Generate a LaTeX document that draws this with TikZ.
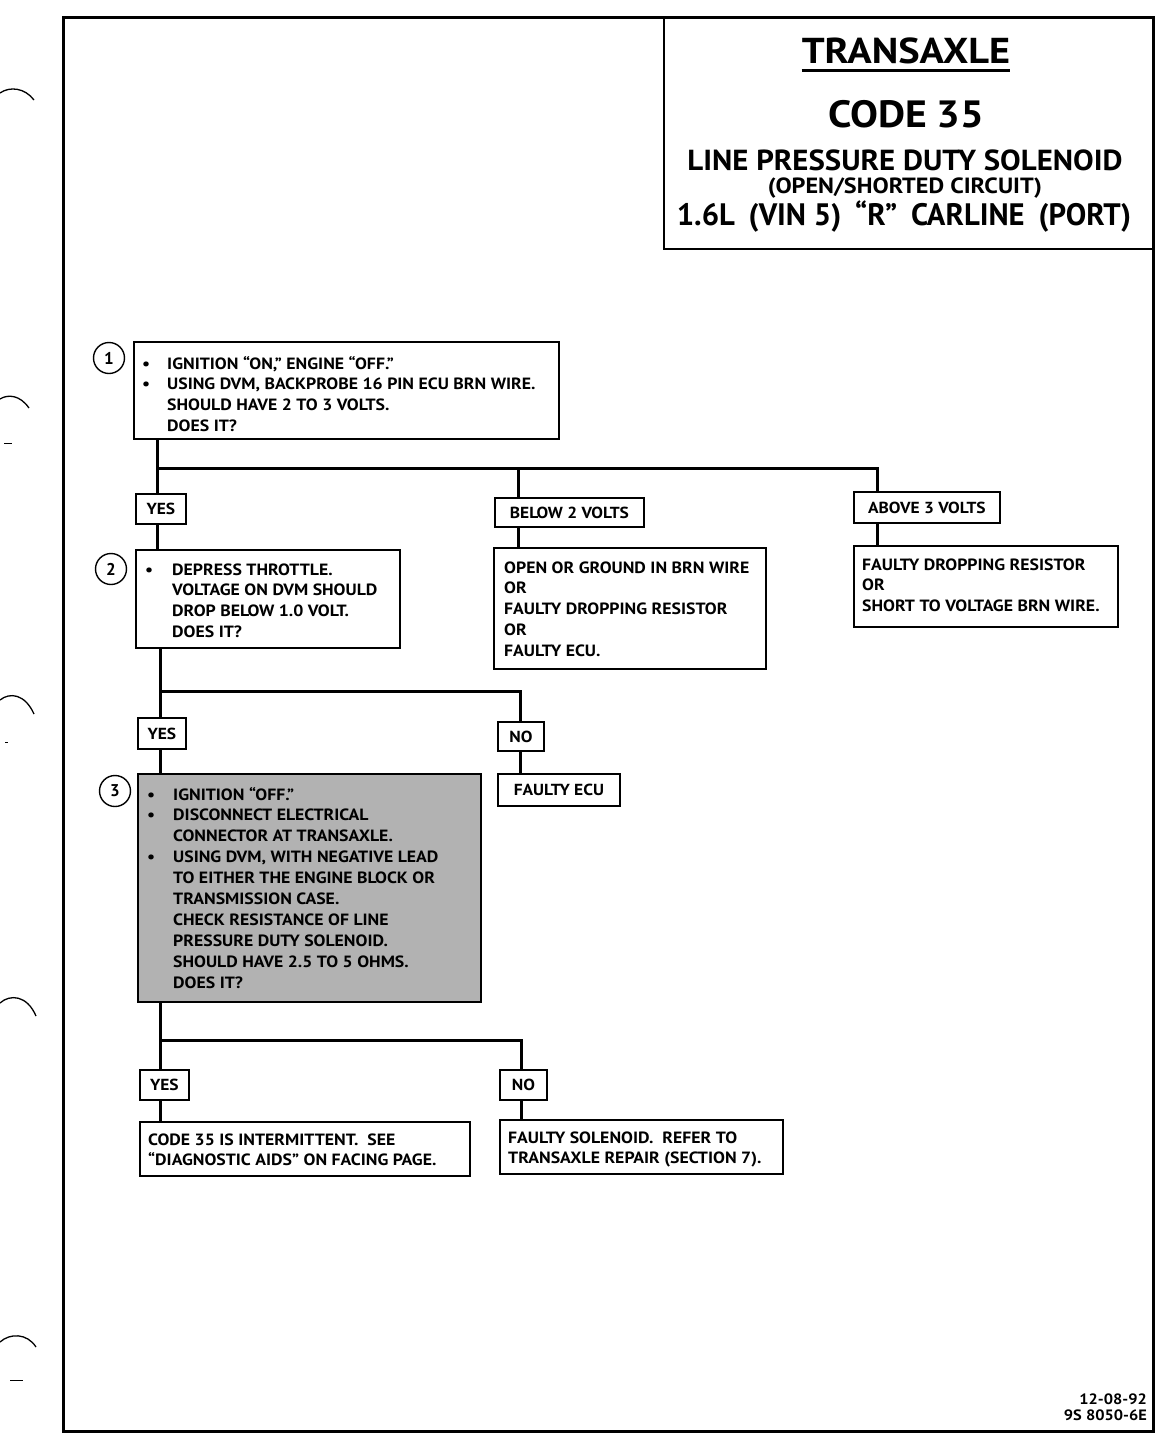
\documentclass[tikz,border=0pt]{standalone}
\usepackage{fontspec}
\setmainfont{PT Sans}
\newfontfamily\boxfont{PT Sans}[FakeStretch=1.09,Ligatures=TeX]
\usetikzlibrary{calc}
\begin{document}
\begin{tikzpicture}[x=1pt,y=-1pt,
  box/.style={draw, line width=1.8pt, rectangle, inner sep=0pt, anchor=north west},
  lbl/.style={box, font=\boxfont\fontsize{16}{18}\selectfont\bfseries},
  txt/.style={anchor=base west, inner sep=0pt, align=left, font=\boxfont\fontsize{16.3}{20.9}\selectfont\bfseries},
  wire/.style={line width=3pt},
  num/.style={draw, circle, line width=1.4pt, minimum size=31pt, inner sep=0pt, font=\fontsize{17}{17}\selectfont\bfseries},
  ttl/.style={anchor=base, inner sep=0pt, font=\bfseries},
  holemark/.style={line width=1.3pt}]
\useasboundingbox (0,0) rectangle (1168,1440);
% frame
\draw[line width=3pt] (63,17) rectangle (1153,1431);
% title block
\node[box, line width=2pt, minimum width=490pt, minimum height=231pt] (tb) at (663,17) {};
\node[ttl, font=\fontsize{36}{36}\selectfont\bfseries] (t1) at (906,63) {\scalebox{1.12}[1]{TRANSAXLE}};
\draw[line width=3pt] ($(t1.base west)+(0,7)$) -- ($(t1.base east)+(0,7)$);
\node[ttl, font=\fontsize{38}{38}\selectfont\bfseries] (t2) at (906,127) {\scalebox{1.1}[1]{CODE\hspace{0.22em}35}};
\node[ttl, font=\fontsize{29}{29}\selectfont\bfseries] (t3) at (905,170) {\scalebox{1.064}[1]{LINE PRESSURE DUTY SOLENOID}};
\node[ttl, font=\fontsize{22}{22}\selectfont\bfseries] (t4) at (905,193) {\scalebox{1.1}[1]{(OPEN/SHORTED CIRCUIT)}};
\node[ttl, font=\fontsize{31}{31}\selectfont\bfseries] (t5) at (904,225) {\scalebox{0.99}[1]{1.6L\hspace{0.45em}(VIN 5)\hspace{0.45em}“R”\hspace{0.45em}CARLINE\hspace{0.45em}(PORT)}};

% ---------- step 1
\node[box, minimum width=425pt, minimum height=97pt] (b1) at (133,341) {};
\node[num] (n1) at (109,358) {1};
\node[txt] (b1t) at (142,369) {\begin{tabular}[t]{@{}p{25pt}@{}l@{}}
\textbullet & IGNITION “ON,” ENGINE “OFF.”\\
\textbullet & USING DVM, BACKPROBE 16 PIN ECU BRN WIRE.\\
 & SHOULD HAVE 2 TO 3 VOLTS.\\
 & DOES IT?\end{tabular}};

\node[lbl, minimum width=50pt, minimum height=30pt] (yes1) at (135,493) {YES};
\node[lbl, minimum width=149pt, minimum height=29pt] (below) at (494,497) {BELOW 2 VOLTS};
\node[lbl, minimum width=146pt, minimum height=31pt] (above) at (853,491) {ABOVE 3 VOLTS};

\coordinate (s1) at (157,468);
\coordinate (cA) at (157,0);
\coordinate (cB) at (518,0);
\coordinate (cC) at (877,0);
\draw[wire] (b1.south -| cA) -- (yes1.north -| cA);
\draw[wire] (s1) -- (s1 -| cC) -- (above.north -| cC);
\draw[wire] (s1 -| cB) -- (below.north -| cB);

% ---------- step 2
\node[box, minimum width=264pt, minimum height=98pt] (b2) at (135,549) {};
\node[num] (n2) at (111,569) {2};
\node[txt] (b2t) at (145,575) {\begin{tabular}[t]{@{}p{27pt}@{}l@{}}
\textbullet & DEPRESS THROTTLE.\\
 & VOLTAGE ON DVM SHOULD\\
 & DROP BELOW 1.0 VOLT.\\
 & DOES IT?\end{tabular}};
\draw[wire] (yes1.south -| cA) -- (b2.north -| cA);

\node[box, minimum width=272pt, minimum height=121pt] (r1) at (493,547) {};
\node[txt] (r1t) at (504,573) {\begin{tabular}[t]{@{}l@{}}OPEN OR GROUND IN BRN WIRE\\OR\\FAULTY DROPPING RESISTOR\\OR\\FAULTY ECU.\end{tabular}};
\draw[wire] (below.south -| cB) -- (r1.north -| cB);

\node[box, minimum width=264pt, minimum height=81pt] (r2) at (853,545) {};
\node[txt] (r2t) at (862,570) {\begin{tabular}[t]{@{}l@{}}FAULTY DROPPING RESISTOR\\OR\\SHORT TO VOLTAGE BRN WIRE.\end{tabular}};
\draw[wire] (above.south -| cC) -- (r2.north -| cC);

% ---------- branch 2
\coordinate (s2) at (160,691);
\coordinate (cA2) at (160,0);
\coordinate (cB2) at (520,0);
\node[lbl, minimum width=48pt, minimum height=31pt] (yes2) at (137,717) {YES};
\node[lbl, minimum width=46pt, minimum height=29pt] (no2) at (497,721) {NO};
\draw[wire] (b2.south -| cA2) -- (yes2.north -| cA2);
\draw[wire] (s2) -- (s2 -| cB2) -- (no2.north -| cB2);

\node[lbl, minimum width=122pt, minimum height=32pt] (ecu) at (497,773) {FAULTY ECU\hspace{14pt}};
\draw[wire] (no2.south -| cB2) -- (ecu.north -| cB2);

% ---------- step 3
\node[box, fill=black!30, minimum width=343pt, minimum height=228pt] (b3) at (137,773) {};
\node[num] (n3) at (115,791) {3};
\node[txt] (b3t) at (147,800) {\begin{tabular}[t]{@{}p{26pt}@{}l@{}}
\textbullet & IGNITION “OFF.”\\
\textbullet & DISCONNECT ELECTRICAL\\
 & CONNECTOR AT TRANSAXLE.\\
\textbullet & USING DVM, WITH NEGATIVE LEAD\\
 & TO EITHER THE ENGINE BLOCK OR\\
 & TRANSMISSION CASE.\\
 & CHECK RESISTANCE OF LINE\\
 & PRESSURE DUTY SOLENOID.\\
 & SHOULD HAVE 2.5 TO 5 OHMS.\\
 & DOES IT?\end{tabular}};
\draw[wire] (yes2.south -| cA2) -- (b3.north -| cA2);

% ---------- branch 3
\coordinate (s3) at (160,1040);
\coordinate (cB3) at (521,0);
\node[lbl, minimum width=49pt, minimum height=30pt] (yes3) at (139,1069) {YES};
\node[lbl, minimum width=47pt, minimum height=30pt] (no3) at (499,1069) {NO};
\draw[wire] (b3.south -| cA2) -- (yes3.north -| cA2);
\draw[wire] (s3) -- (s3 -| cB3) -- (no3.north -| cB3);

\node[box, minimum width=330pt, minimum height=54pt] (e1) at (139,1121) {};
\node[txt] (e1t) at (148,1145) {\begin{tabular}[t]{@{}l@{}}CODE 35 IS INTERMITTENT.\ \ SEE\\“DIAGNOSTIC AIDS” ON FACING PAGE.\end{tabular}};
\draw[wire] (yes3.south -| cA2) -- (e1.north -| cA2);

\node[box, minimum width=283pt, minimum height=54pt] (e2) at (499,1119) {};
\node[txt] (e2t) at (508,1143) {\begin{tabular}[t]{@{}l@{}}FAULTY SOLENOID.\ \ REFER TO\\TRANSAXLE REPAIR (SECTION 7).\end{tabular}};
\draw[wire] (no3.south -| cB3) -- (e2.north -| cB3);

% footer
\node[anchor=base east, inner sep=0pt, font=\boxfont\fontsize{15}{16.5}\selectfont\bfseries] (ft) at (1147,1404) {\begin{tabular}[t]{@{}r@{}}12-08-92\\9S 8050-6E\end{tabular}};

% binder hole marks
\draw[holemark] (0,93) .. controls (10,86) and (25,88) .. (34,100);
\draw[holemark] (0,399) .. controls (8,394) and (20,395) .. (29,408);
\draw[holemark] (0,700) .. controls (10,692) and (25,694) .. (34,714);
\draw[holemark] (0,1003) .. controls (10,994) and (27,995) .. (36,1016);
\draw[holemark] (0,1342) .. controls (10,1333) and (27,1333) .. (36,1347);
\draw[line width=1pt] (4,443) -- (12,443);
\draw[line width=1pt] (5,742) -- (8,742);
\draw[line width=1pt] (10,1380) -- (23,1380);
\end{tikzpicture}
\end{document}
